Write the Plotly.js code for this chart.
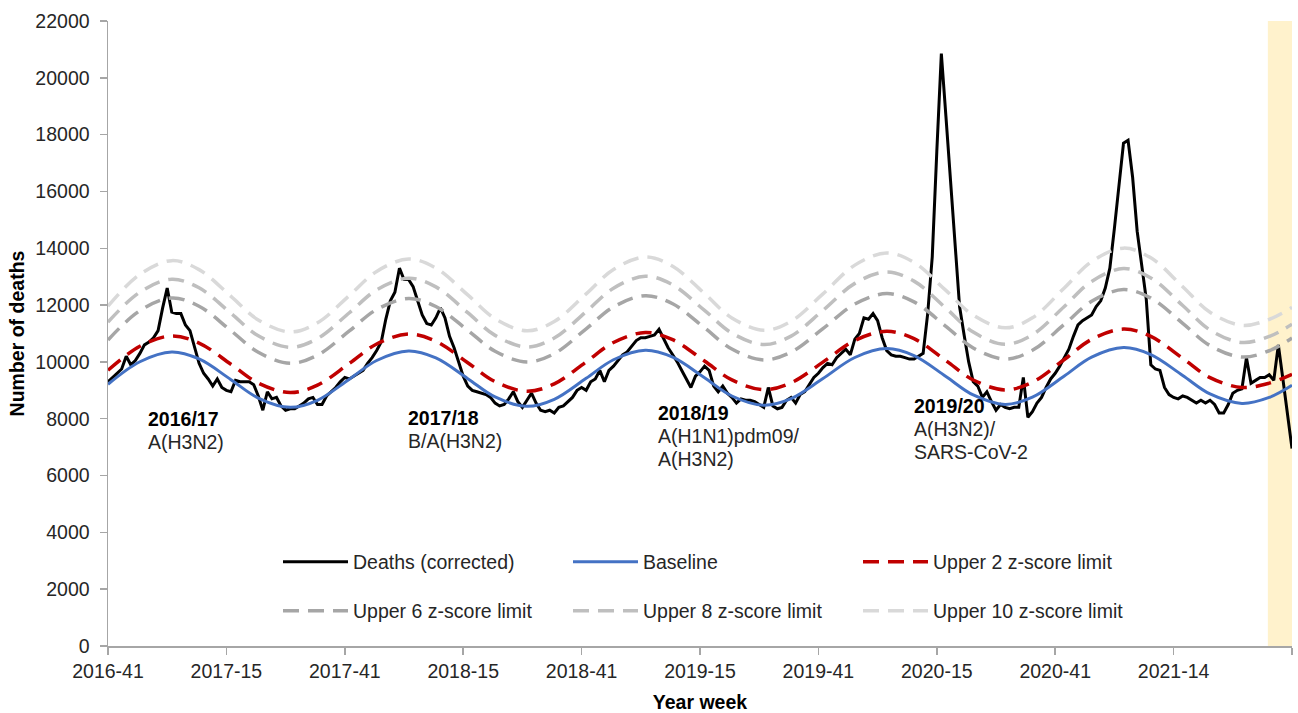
<!DOCTYPE html>
<html>
<head>
<meta charset="utf-8">
<script src="https://cdn.plot.ly/plotly-3.0.1.min.js"></script>
<style>
  html, body { margin: 0; padding: 0; background: #ffffff; }
  #chart { width: 1298px; height: 713px; }
</style>
</head>
<body>
<div id="chart"></div>
<script>
// ---------- categories: ISO year-weeks 2016-41 ... 2021-40 ----------
const startYear = 2016, startWeek = 41;
const endYear = 2021, endWeek = 40;
const weeksPerYear = {2016: 52, 2017: 52, 2018: 52, 2019: 52, 2020: 53, 2021: 52};
const weeks = [];
for (let y = startYear; y <= endYear; y++) {
  const w0 = (y === startYear) ? startWeek : 1;
  const w1 = (y === endYear) ? endWeek : weeksPerYear[y];
  for (let w = w0; w <= w1; w++) weeks.push(y + '-' + String(w).padStart(2, '0'));
}

// ---------- tick labels ----------
const tickLabels = ['2016-41', '2017-15', '2017-41', '2018-15', '2018-41',
                    '2019-15', '2019-41', '2020-15', '2020-41', '2021-14', '2021-40'];
const tickText = ['2016-41', '2017-15', '2017-41', '2018-15', '2018-41',
                  '2019-15', '2019-41', '2020-15', '2020-41', '2021-14', ''];

// ---------- weekly deaths (corrected), one value per week ----------
const deaths = [
  9300, 9450, 9600, 9750, 10200, 9900, 10050, 10300, 10600, 10700,
  10850, 11100, 11900, 12600, 11750, 11700, 11700, 11300, 11100, 10500,
  9950, 9600, 9400, 9150, 9400, 9100, 9000, 8950, 9350, 9300,
  9300, 9300, 9200, 8800, 8300, 8950, 8700, 8750, 8450, 8300,
  8350, 8350, 8450, 8550, 8700, 8750, 8500, 8500, 8800, 8950,
  9100, 9300, 9450, 9400, 9500, 9600, 9700, 9950, 10150, 10400,
  10700, 11500, 12150, 12450, 13300, 12900, 12900, 12650, 12150, 11650,
  11350, 11300, 11550, 11900, 11550, 10900, 10500, 10000, 9500, 9150,
  9000, 8950, 8900, 8850, 8750, 8550, 8450, 8500, 8700, 8950,
  8600, 8400, 8650, 8900, 8550, 8300, 8250, 8300, 8200, 8400,
  8450, 8600, 8750, 9000, 9100, 9000, 9300, 9400, 9700, 9300,
  9700, 9850, 10050, 10250, 10350, 10550, 10750, 10850, 10850, 10900,
  10950, 11150, 10800, 10500, 10250, 10000, 9700, 9400, 9100, 9500,
  9650, 9850, 9700, 9150, 8950, 9150, 8900, 8750, 8550, 8700,
  8650, 8650, 8600, 8500, 8400, 9100, 8450, 8350, 8400, 8650,
  8750, 8550, 8850, 8950, 9200, 9450, 9600, 9800, 9950, 9900,
  10150, 10300, 10450, 10250, 10800, 11000, 11550, 11500, 11700, 11450,
  10850, 10400, 10250, 10200, 10200, 10150, 10100, 10100, 10200, 10300,
  11700, 13700, 17400, 20850, 18650, 16500, 14300, 11950, 10950, 10000,
  9300, 9150, 8750, 8950, 8600, 8300, 8500, 8400, 8350, 8400,
  8400, 9450, 8050, 8250, 8550, 8750, 9100, 9400, 9600, 9850,
  10150, 10450, 10900, 11300, 11450, 11550, 11650, 11950, 12150, 12600,
  13300, 14700, 16300, 17700, 17800, 16500, 14600, 13400, 12200, 9900,
  9750, 9700, 9100, 8850, 8750, 8700, 8800, 8750, 8650, 8550,
  8650, 8550, 8650, 8500, 8200, 8200, 8500, 8900, 9000, 9050,
  10150, 9250, 9350, 9450, 9450, 9550, 9350, 10600, 9400, 8150,
  6950
];

// ---------- smooth model curves, read at these weeks ----------
const modelWeeks = [
  '2016-41', '2016-48', '2017-03', '2017-09', '2017-16', '2017-22', '2017-29', '2017-35',
  '2017-42', '2017-48', '2018-03', '2018-09', '2018-16', '2018-22', '2018-29', '2018-35',
  '2018-42', '2018-48', '2019-03', '2019-09', '2019-16', '2019-22', '2019-29', '2019-35',
  '2019-42', '2019-49', '2020-04', '2020-10', '2020-17', '2020-23', '2020-30', '2020-36',
  '2020-43', '2020-49', '2021-03', '2021-09', '2021-16', '2021-22', '2021-29', '2021-35',
  '2021-40'
];
const baseline = [9212, 10006, 10349, 10103, 9375, 8729, 8400, 8650, 9392, 10049, 10384,
  10139, 9411, 8766, 8437, 8685, 9423, 10076, 10409, 10165, 9441, 8800, 8473, 8706, 9413,
  10155, 10468, 10221, 9487, 8837, 8505, 8757, 9504, 10165, 10503, 10256, 9522, 8872, 8540,
  8750, 9177];
const upper2 = [9705, 10550, 10915, 10664, 9918, 9257, 8920, 9180, 9950, 10632, 10980,
  10726, 9973, 9306, 8966, 9227, 10000, 10685, 11035, 10782, 10030, 9365, 9025, 9265, 9991,
  10755, 11077, 10817, 10046, 9363, 9015, 9285, 10085, 10793, 11155, 10896, 10128, 9447, 9100,
  9253, 9564];
const upper6 = [10770, 11803, 12250, 11960, 11100, 10339, 9950, 10237, 11090, 11845, 12230,
  11949, 11114, 10374, 9997, 10291, 11164, 11936, 12330, 12045, 11200, 10452, 10070, 10343,
  11170, 12038, 12405, 12115, 11253, 10490, 10100, 10408, 11323, 12132, 12545, 12246, 11359,
  10574, 10173, 10393, 10840];
const upper8 = [11400, 12454, 12910, 12608, 11713, 10920, 10515, 10821, 11730, 12534, 12945,
  12640, 11735, 10934, 10525, 10839, 11770, 12594, 13015, 12712, 11813, 11016, 10610, 10909,
  11813, 12764, 13165, 12844, 11893, 11050, 10620, 10956, 11952, 12834, 13284, 12957, 11985,
  11124, 10685, 10896, 11324];
const upper10 = [11960, 13080, 13565, 13248, 12309, 11478, 11053, 11376, 12337, 13186, 13620,
  13302, 12358, 11522, 11095, 11422, 12394, 13254, 13693, 13368, 12403, 11549, 11113, 11431,
  12395, 13407, 13834, 13502, 12517, 11645, 11200, 11553, 12603, 13531, 14005, 13663, 12647,
  11748, 11289, 11497, 11920];

// ---------- season annotations ----------
const seasonLabels = ['2016/17', '2017/18', '2018/19', '2019/20'];
const seasonStrains = [['A(H3N2)'], ['B/A(H3N2)'], ['A(H1N1)pdm09/', 'A(H3N2)'], ['A(H3N2)/', 'SARS-CoV-2']];
const shadedWeeks = ['2021-35', '2021-40'];

const FONT = 'Liberation Sans, Arial, Helvetica, sans-serif';
const FS = 19.5;
const TXT = '#262626';

const dashStyle = '16px,9px';
const traces = [
  {name: 'Deaths (corrected)', y: deaths, x: weeks, color: '#000000', width: 3, dash: 'solid', shape: 'linear', legend: 'legend'},
  {name: 'Baseline', y: baseline, x: modelWeeks, color: '#4472C4', width: 3, dash: 'solid', shape: 'spline', legend: 'legend2'},
  {name: 'Upper 2 z-score limit', y: upper2, x: modelWeeks, color: '#C00000', width: 3.5, dash: dashStyle, shape: 'spline', legend: 'legend3'},
  {name: 'Upper 6 z-score limit', y: upper6, x: modelWeeks, color: '#A6A6A6', width: 3.5, dash: dashStyle, shape: 'spline', legend: 'legend4'},
  {name: 'Upper 8 z-score limit', y: upper8, x: modelWeeks, color: '#BFBFBF', width: 3.5, dash: dashStyle, shape: 'spline', legend: 'legend5'},
  {name: 'Upper 10 z-score limit', y: upper10, x: modelWeeks, color: '#D9D9D9', width: 3.5, dash: dashStyle, shape: 'spline', legend: 'legend6'}
].map(t => ({
  type: 'scatter', mode: 'lines', name: t.name, x: t.x, y: t.y,
  line: {color: t.color, width: t.width, dash: t.dash, shape: t.shape, smoothing: 1},
  legend: t.legend, hoverinfo: 'skip'
}));

// plot area geometry (pixels) used to place legends / annotations in paper space
const W = 1298, H = 713, ML = 108, MR = 6, MT = 21, MB = 67;
const PW = W - ML - MR, PH = H - MT - MB;
const px = v => (v - ML) / PW;
const py = v => (H - MB - v) / PH;

function legendAt(xPix, yPix) {
  return {
    x: px(xPix), y: py(yPix), xanchor: 'left', yanchor: 'middle',
    orientation: 'h', bgcolor: 'rgba(0,0,0,0)', borderwidth: 0,
    font: {family: FONT, size: FS, color: TXT}, itemwidth: 65,
    itemclick: false, itemdoubleclick: false
  };
}

const annotations = [];
const labelX = [146, 406, 656, 912];
const labelTop = [411, 410, 405, 398];
seasonLabels.forEach((s, k) => {
  annotations.push({
    xref: 'paper', yref: 'paper', x: px(labelX[k]), y: py(labelTop[k] - 5),
    xanchor: 'left', yanchor: 'top', showarrow: false, align: 'left',
    text: '<b>' + s + '</b>', font: {family: FONT, size: FS, color: '#000'}
  });
  seasonStrains[k].forEach((line, j) => {
    annotations.push({
      xref: 'paper', yref: 'paper', x: px(labelX[k]), y: py(labelTop[k] - 5 + 23 * (j + 1)),
      xanchor: 'left', yanchor: 'top', showarrow: false, align: 'left',
      text: line, font: {family: FONT, size: FS, color: TXT}
    });
  });
});

const layout = {
  width: W, height: H,
  margin: {l: ML, r: MR, t: MT, b: MB, pad: 0},
  paper_bgcolor: '#ffffff', plot_bgcolor: '#ffffff',
  font: {family: FONT, size: FS, color: TXT},
  showlegend: true,
  legend: legendAt(278, 562),
  legend2: legendAt(568, 562),
  legend3: legendAt(858, 562),
  legend4: legendAt(278, 611),
  legend5: legendAt(568, 611),
  legend6: legendAt(858, 611),
  xaxis: {
    type: 'category', categoryorder: 'array', categoryarray: weeks,
    range: [0, weeks.length - 1], autorange: false,
    tickmode: 'array', tickvals: tickLabels, ticktext: tickText,
    ticks: 'outside', ticklen: 7, tickwidth: 1.5, tickcolor: '#A6A6A6',
    showline: true, linecolor: '#A6A6A6', linewidth: 1.5,
    showgrid: false, zeroline: false, tickangle: 0,
    tickfont: {family: FONT, size: FS, color: TXT},
    title: {text: '<b>Year week</b>', font: {family: FONT, size: FS, color: '#000'}, standoff: 14}
  },
  yaxis: {
    range: [0, 22000], autorange: false, dtick: 2000, tick0: 0,
    tickformat: 'd',
    ticks: 'outside', ticklen: 7, tickwidth: 1.5, tickcolor: '#A6A6A6',
    ticklabelstandoff: 6,
    showline: true, linecolor: '#A6A6A6', linewidth: 1.5,
    showgrid: false, zeroline: false,
    tickfont: {family: FONT, size: FS, color: TXT},
    title: {text: '<b>Number of deaths</b>', font: {family: FONT, size: FS, color: '#000'}, standoff: 5}
  },
  shapes: [{
    type: 'rect', layer: 'below', xref: 'x', yref: 'paper',
    x0: weeks.indexOf(shadedWeeks[0]) - 0.3, x1: weeks.indexOf(shadedWeeks[1]),
    y0: 0, y1: 1, fillcolor: '#FFF2CC', line: {width: 0}
  }],
  annotations: annotations
};

Plotly.newPlot('chart', traces, layout, {displayModeBar: false, staticPlot: true, responsive: false});
</script>
</body>
</html>
